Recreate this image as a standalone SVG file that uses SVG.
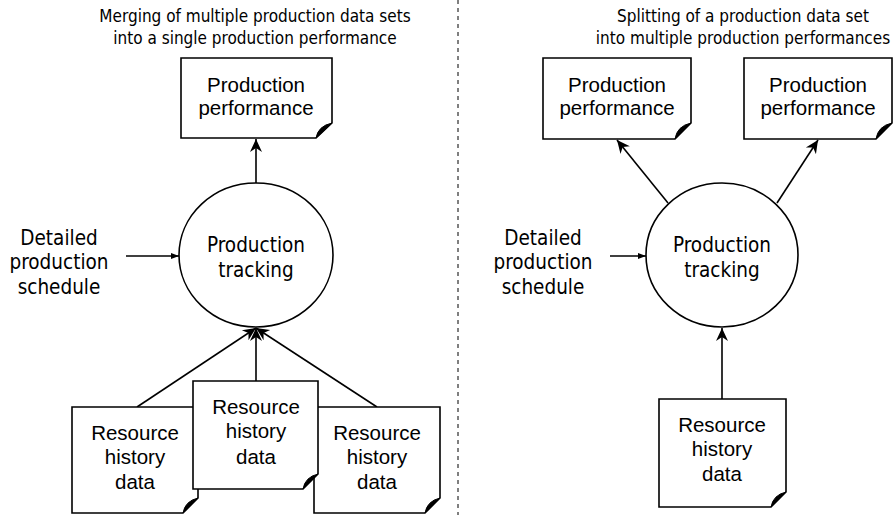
<svg xmlns="http://www.w3.org/2000/svg" width="894" height="515" viewBox="0 0 894 515">
<defs>
<style>
.t{font-family:'DejaVu Sans Condensed','DejaVu Sans',sans-serif;font-stretch:condensed;fill:#000;text-anchor:middle}
.s{font-size:17px}
.m{font-size:20.5px}
.a{font-family:'Liberation Sans',Arial,sans-serif;fill:#000;text-anchor:middle;font-size:20.5px}
.doc{fill:#fff;stroke:#000;stroke-width:1.6}
.curl{fill:#000;stroke:#000;stroke-width:1}
.ell{fill:#fff;stroke:#000;stroke-width:1.6}
.ln{fill:none;stroke:#000;stroke-width:1.6}
</style>
<marker id="ah" markerUnits="userSpaceOnUse" markerWidth="14" markerHeight="14" viewBox="0 0 14 14" refX="13" refY="7" orient="auto">
<path d="M0,1 L13,7 L0,13 L4,7 Z" fill="#000"/>
</marker>
<marker id="as" markerUnits="userSpaceOnUse" markerWidth="8" markerHeight="8" viewBox="0 0 8 8" refX="8" refY="4" orient="auto">
<path d="M0,1 L8,4 L0,7 Z" fill="#000"/>
</marker>
</defs>
<rect width="894" height="515" fill="#fff"/>

<g id="titles">
<text class="t s" x="255" y="22">Merging of multiple production data sets</text>
<text class="t s" x="255" y="44">into a single production performance</text>
<text class="t s" x="743" y="22">Splitting of a production data set</text>
<text class="t s" x="743" y="44">into multiple production performances</text>
</g>
<line id="divider" x1="458" y1="0" x2="458" y2="515" stroke="#000" stroke-width="1" stroke-dasharray="4,4"/>

<g id="connectors">
<line class="ln" x1="256" y1="183" x2="256" y2="139" marker-end="url(#ah)"/>
<line class="ln" x1="126" y1="256" x2="179" y2="256" marker-end="url(#as)"/>
<line class="ln" x1="137" y1="407" x2="256" y2="328" marker-end="url(#ah)"/>
<line class="ln" x1="256" y1="381" x2="256" y2="328" marker-end="url(#ah)"/>
<line class="ln" x1="377" y1="407" x2="256" y2="328" marker-end="url(#ah)"/>
<line class="ln" x1="668" y1="203" x2="617" y2="140" marker-end="url(#ah)"/>
<line class="ln" x1="777" y1="203" x2="818" y2="140" marker-end="url(#ah)"/>
<line class="ln" x1="610" y1="256" x2="646" y2="256" marker-end="url(#as)"/>
<line class="ln" x1="722" y1="399" x2="722" y2="328" marker-end="url(#ah)"/>
</g>

<g id="perf-left">
<path class="doc" d="M181,58 H332 V123 L316,138 H181 Z"/>
<path class="curl" d="M332,123 L316,138 Q318,126 332,123 Z"/>
<text class="a" x="256" y="92">Production</text>
<text class="a" x="256" y="115">performance</text>
</g>

<g id="tracking-left">
<ellipse class="ell" cx="256" cy="255" rx="77" ry="72"/>
<text class="t m" x="256" y="252">Production</text>
<text class="t m" x="256" y="277">tracking</text>
</g>

<g id="schedule-left">
<text class="t m" x="59" y="245">Detailed</text>
<text class="t m" x="59" y="269">production</text>
<text class="t m" x="59" y="294">schedule</text>
</g>

<g id="res-left">
<path class="doc" d="M72,407 H198 V498 L183,513 H72 Z"/>
<path class="curl" d="M198,498 L183,513 Q185,501 198,498 Z"/>
<text class="a" x="135" y="440">Resource</text>
<text class="a" x="135" y="464">history</text>
<text class="a" x="135" y="489">data</text>
</g>

<g id="res-right">
<path class="doc" d="M314,407 H440 V498 L425,513 H314 Z"/>
<path class="curl" d="M440,498 L425,513 Q427,501 440,498 Z"/>
<text class="a" x="377" y="440">Resource</text>
<text class="a" x="377" y="464">history</text>
<text class="a" x="377" y="489">data</text>
</g>

<g id="res-mid">
<path class="doc" d="M193,381 H318 V474 L303,489 H193 Z"/>
<path class="curl" d="M318,474 L303,489 Q305,477 318,474 Z"/>
<text class="a" x="256" y="414">Resource</text>
<text class="a" x="256" y="438">history</text>
<text class="a" x="256" y="464">data</text>
</g>

<g id="perf-r1">
<path class="doc" d="M543,58 H691 V123 L675,139 H543 Z"/>
<path class="curl" d="M691,123 L675,139 Q677,126 691,123 Z"/>
<text class="a" x="617" y="92">Production</text>
<text class="a" x="617" y="115">performance</text>
</g>

<g id="perf-r2">
<path class="doc" d="M744,58 H892 V123 L876,139 H744 Z"/>
<path class="curl" d="M892,123 L876,139 Q878,126 892,123 Z"/>
<text class="a" x="818" y="92">Production</text>
<text class="a" x="818" y="115">performance</text>
</g>

<g id="tracking-right">
<ellipse class="ell" cx="722" cy="255" rx="76" ry="72"/>
<text class="t m" x="722" y="252">Production</text>
<text class="t m" x="722" y="277">tracking</text>
</g>

<g id="schedule-right">
<text class="t m" x="543" y="245">Detailed</text>
<text class="t m" x="543" y="269">production</text>
<text class="t m" x="543" y="294">schedule</text>
</g>

<g id="res-single">
<path class="doc" d="M659,399 H786 V492 L771,507 H659 Z"/>
<path class="curl" d="M786,492 L771,507 Q773,495 786,492 Z"/>
<text class="a" x="722" y="432">Resource</text>
<text class="a" x="722" y="456">history</text>
<text class="a" x="722" y="481">data</text>
</g>
</svg>
